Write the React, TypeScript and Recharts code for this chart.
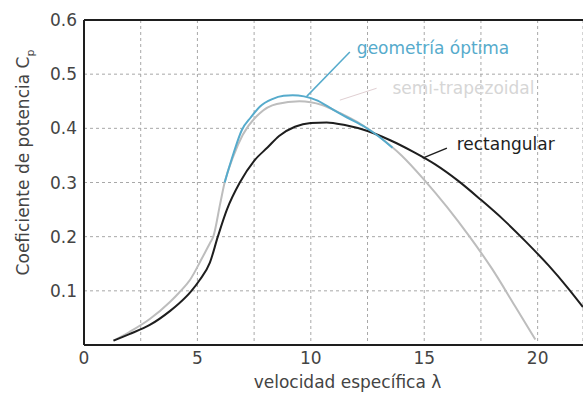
import React from 'react';
import { CartesianGrid, Line, LineChart, ReferenceDot, ReferenceLine, XAxis, YAxis } from 'recharts';

// velocidad específica λ / coeficiente de potencia Cp
const rectLambda = [1.3, 2, 2.9, 3.8, 4.2, 4.7, 5.1, 5.55, 5.9, 6.3, 6.87, 7.5, 8.1, 8.6, 9.3, 10, 10.7, 11.5, 12.5, 13.5, 14.5, 15.5, 16.5, 17.5, 18.5, 19.5, 20.5, 21.3, 22];
const rectCp = [0.008, 0.02, 0.037, 0.063, 0.077, 0.098, 0.12, 0.152, 0.2, 0.25, 0.3, 0.34, 0.365, 0.386, 0.403, 0.41, 0.411, 0.406, 0.395, 0.378, 0.357, 0.333, 0.303, 0.268, 0.231, 0.19, 0.146, 0.107, 0.07];

const trapLambda = [1.3, 2, 2.9, 3.8, 4.2, 4.67, 5.2, 5.55, 5.7, 6, 6.2, 6.6, 7, 7.75, 8.5, 9.5, 10.5, 11.3, 12.2, 13, 14, 15, 16, 17, 18, 19, 19.9];
const trapCp = [0.008, 0.024, 0.048, 0.08, 0.097, 0.12, 0.16, 0.188, 0.2, 0.26, 0.3, 0.35, 0.388, 0.428, 0.445, 0.45, 0.443, 0.428, 0.408, 0.385, 0.35, 0.305, 0.255, 0.2, 0.14, 0.072, 0.01];

const optLambda = [6.2, 6.6, 6.96, 7.35, 7.75, 8.3, 8.8, 9.2, 9.7, 10.3, 10.8, 11.6, 12.4, 13, 13.6];
const optCp = [0.3, 0.355, 0.397, 0.42, 0.44, 0.454, 0.46, 0.461, 0.459, 0.451, 0.439, 0.42, 0.402, 0.385, 0.364];

const xTicks = [0, 2.5, 5, 7.5, 10, 12.5, 15, 17.5, 20];
const yTicks = [0, 0.1, 0.2, 0.3, 0.4, 0.5, 0.6];

const toPoints = (xs: number[], ys: number[]) => xs.map((l, i) => ({ l, cp: ys[i] }));

const rectData = toPoints(rectLambda, rectCp);
const trapData = toPoints(trapLambda, trapCp);
const optData = toPoints(optLambda, optCp);

const FONT = '"DejaVu Sans", Verdana, sans-serif';
const FS = 17;
const CYAN = '#56abcc';
const GRAY = '#bdbdbd';
const DARK = '#1e1e1e';

function CurveLabel({ viewBox, text, color }: any) {
  if (!viewBox) return null;
  return (
    <text x={viewBox.x} y={viewBox.y} dy="0.35em" fill={color} fontSize={FS} fontFamily={FONT}>
      {text}
    </text>
  );
}

export default function App() {
  return (
    <div style={{ position: 'absolute', left: 0, top: 0, background: '#fff' }}>
      <LineChart width={583} height={396} data={rectData} margin={{ top: 20, right: 0, left: 24, bottom: 21 }}>
        <CartesianGrid stroke="#a8a8a8" strokeDasharray="3 3" />
        <XAxis
          dataKey="l"
          type="number"
          domain={[0, 22]}
          ticks={xTicks}
          allowDataOverflow
          tickFormatter={(v: number) => (v % 5 === 0 ? String(v) : '')}
          tickLine={false}
          tickSize={4}
          tickMargin={3}
          axisLine={{ stroke: DARK, strokeWidth: 2 }}
          tick={{ fill: '#444', fontSize: FS, fontFamily: FONT }}
          height={30}
          label={{ value: 'velocidad específica λ', position: 'insideBottom', offset: -13, dx: 14, fill: '#444', fontSize: FS, fontFamily: FONT }}
        />
        <YAxis
          type="number"
          domain={[0, 0.6]}
          ticks={yTicks}
          tickFormatter={(v: number) => (v === 0 ? '' : v.toFixed(1))}
          tickLine={false}
          tickSize={4}
          tickMargin={3}
          axisLine={{ stroke: DARK, strokeWidth: 2 }}
          tick={{ fill: '#444', fontSize: FS, fontFamily: FONT }}
          width={60}
          label={({ viewBox }: any) => {
            const cy = viewBox.y + viewBox.height / 2 - 20;
            return (
              <text
                x={23}
                y={cy}
                transform={`rotate(-90 23 ${cy})`}
                textAnchor="middle"
                dy="0.35em"
                fill="#444"
                fontSize={FS}
                fontFamily={FONT}
              >
                Coeficiente de potencia C
                <tspan fontSize={11} dy="5">p</tspan>
              </text>
            );
          }}
        />
        <ReferenceLine y={0.6} stroke={DARK} strokeWidth={2} />
        <Line data={trapData} dataKey="cp" type="monotone" stroke={GRAY} strokeWidth={2} dot={false} isAnimationActive={false} />
        <Line data={rectData} dataKey="cp" type="monotone" stroke={DARK} strokeWidth={2} dot={false} isAnimationActive={false} />
        <Line data={optData} dataKey="cp" type="monotone" stroke={CYAN} strokeWidth={2} dot={false} isAnimationActive={false} />
        <ReferenceLine segment={[{ x: 9.82, y: 0.459 }, { x: 11.72, y: 0.541 }]} stroke={CYAN} strokeWidth={1.5} />
        <ReferenceLine segment={[{ x: 11.28, y: 0.452 }, { x: 12.9, y: 0.474 }]} stroke="#e0cfd2" strokeWidth={1} />
        <ReferenceLine segment={[{ x: 14.93, y: 0.345 }, { x: 16.0, y: 0.3635 }]} stroke={DARK} strokeWidth={1.5} />
        <ReferenceDot x={12.03} y={0.548} r={0} label={<CurveLabel text="geometría óptima" color={CYAN} />} />
        <ReferenceDot x={13.6} y={0.474} r={0} label={<CurveLabel text="semi-trapezoidal" color="#d6d6d6" />} />
        <ReferenceDot x={16.43} y={0.371} r={0} label={<CurveLabel text="rectangular" color={DARK} />} />
      </LineChart>
    </div>
  );
}
